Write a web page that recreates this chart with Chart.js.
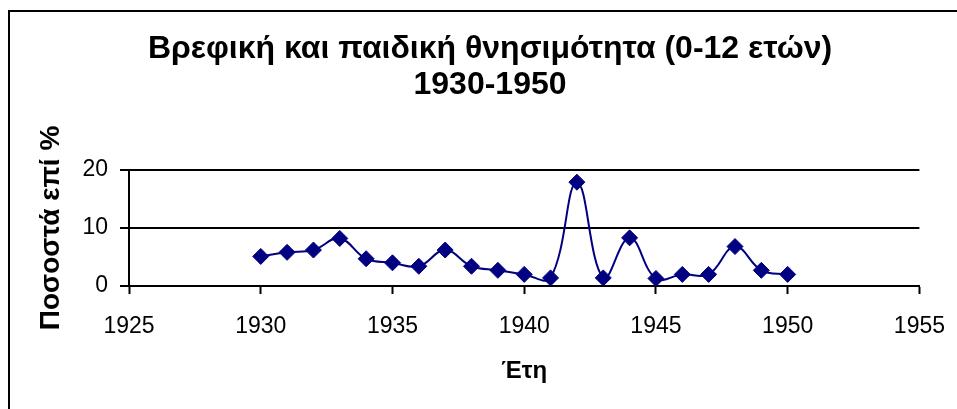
<!DOCTYPE html>
<html>
<head>
<meta charset="utf-8">
<script src="https://cdn.jsdelivr.net/npm/chart.js@4"></script>
<style>
  html, body { margin: 0; padding: 0; background: #fff; overflow: hidden; }
  #wrap { position: relative; width: 957px; height: 409px; overflow: hidden; }
  #frame { position: absolute; left: 8px; top: 10px; width: 1000px; height: 500px;
           border-left: 2px solid #000; border-top: 2px solid #000; pointer-events: none; }
  canvas { position: absolute; left: 0; top: 0; }
</style>
</head>
<body>
<div id="wrap">
  <!-- canvas a bit wider than the window: the chart box runs past the right edge -->
  <canvas id="chart" width="964" height="409"></canvas>
  <div id="frame"></div>
</div>
<script>
// data
const years = [1930, 1931, 1932, 1933, 1934, 1935, 1936, 1937, 1938, 1939, 1940,
               1941, 1942, 1943, 1944, 1945, 1946, 1947, 1948, 1949, 1950];
const rates = [5.1, 5.8, 6.2, 8.2, 4.7, 4.0, 3.4, 6.2, 3.4, 2.7, 2.0,
               1.4, 17.9, 1.4, 8.3, 1.3, 2.0, 2.0, 6.8, 2.7, 2.0];
const titleLines = ["Βρεφική και παιδική θνησιμότητα (0-12 ετών)", "1930-1950"];
const yTitle = "Ποσοστά επί %";
const xTitle = "Έτη";

Chart.defaults.font.family = "'Liberation Sans', Arial, sans-serif";
Chart.defaults.color = "#000";

const points = years.map((y, i) => ({ x: y, y: rates[i] }));

new Chart(document.getElementById("chart"), {
  type: "line",
  data: {
    datasets: [{
      data: points,
      borderColor: "#000080",
      backgroundColor: "#000080",
      borderWidth: 2,
      tension: 0.4,
      pointStyle: "rectRot",
      pointRadius: 8,
      pointBorderWidth: 1,
      fill: false
    }]
  },
  options: {
    responsive: false,
    animation: false,
    layout: { padding: { top: 0, left: 16, right: 0, bottom: 0 } },
    plugins: {
      legend: { display: false },
      tooltip: { enabled: false },
      title: {
        display: true,
        text: titleLines,
        font: { size: 32, weight: "bold", lineHeight: "36px" },
        padding: { top: 31, bottom: 67 }
      }
    },
    scales: {
      x: {
        type: "linear",
        min: 1925,
        max: 1955,
        afterFit: s => { s.height = 123; },
        ticks: {
          stepSize: 5,
          font: { size: 23 },
          padding: 19,
          callback: v => String(v)
        },
        grid: {
          drawOnChartArea: false,
          drawTicks: true,
          tickLength: 8,
          tickColor: "#000",
          tickWidth: 2
        },
        border: { display: true, color: "#000", width: 2 },
        title: {
          display: true,
          text: xTitle,
          font: { size: 24, weight: "bold" },
          padding: { top: 0, bottom: 23 }
        }
      },
      y: {
        min: 0,
        max: 20,
        afterFit: s => { s.width = 113; },
        ticks: {
          stepSize: 10,
          font: { size: 23 },
          padding: 12
        },
        grid: {
          color: "#000",
          lineWidth: 2,
          drawTicks: true,
          tickLength: 9,
          tickColor: "#000"
        },
        border: { display: true, color: "#000", width: 2 },
        title: {
          display: true,
          text: yTitle,
          font: { size: 28, weight: "bold" },
          padding: { top: 18, bottom: 0 }
        }
      }
    }
  }
});
</script>
</body>
</html>
